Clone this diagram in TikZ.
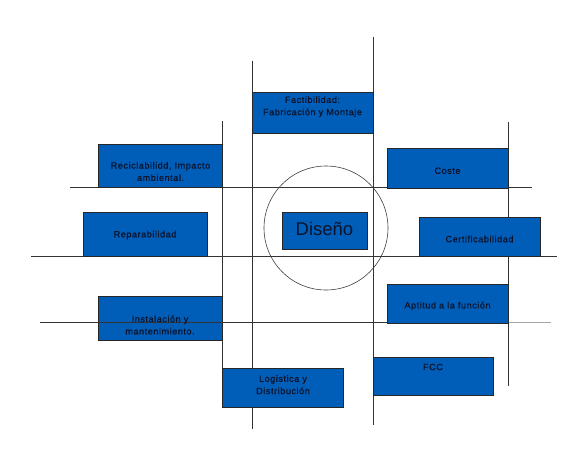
\documentclass[tikz,border=0pt]{standalone}
\usepackage{fontspec}
\newfontfamily\boxfont[LetterSpace=6,FakeBold=0.7]{Liberation Sans}
\newfontfamily\bigfont{Liberation Sans}
\definecolor{boxblue}{RGB}{0,94,184}
\definecolor{txtdark}{RGB}{12,20,45}
\begin{document}
\begin{tikzpicture}[x=1pt,y=-1pt,
  bluebox/.style={draw=black!85,line width=0.9pt,fill=boxblue,inner sep=0pt},
  boxtext/.style={inner sep=0pt,font=\boxfont\fontsize{9.1}{12.3}\selectfont,text=txtdark,align=center},
  gridline/.style={draw=black!80,line width=0.8pt},
  lightline/.style={draw=black!35,line width=0.8pt}]
\useasboundingbox (0,0) rectangle (575,452);
% grid lines
\coordinate (v1t) at (222,121); \coordinate (v1b) at (222,368);
\coordinate (v2t) at (252,61);  \coordinate (v2b) at (252,429);
\coordinate (v3t) at (373,37);  \coordinate (v3b) at (373,425);
\coordinate (v4t) at (508,122); \coordinate (v4b) at (508,386);
\coordinate (h1l) at (70,187);  \coordinate (h1r) at (532,187);
\coordinate (h2l) at (31,256);  \coordinate (h2r) at (557,256);
\coordinate (h3l) at (40,322);  \coordinate (h3m) at (262,322); \coordinate (h3r) at (551,322);
\coordinate (h3k) at (387,322);
\draw[gridline] (v1t) -- (v1b);
\draw[gridline] (v2t) -- (v2b);
\draw[gridline] (v3t) -- (v3b);
\draw[gridline] (v4t) -- (v4b);
\draw[gridline] (h1l) -- (h1r);
\draw[gridline] (h2l) -- (h2r);
\draw[lightline] (h3m) -- (h3r);
\draw[gridline] (h3m) -- (h3k);
% circle
\node[draw=black!75,line width=0.6pt,circle,minimum size=124pt,inner sep=0pt] (circ) at (326,228) {};
% boxes
\node[bluebox,minimum width=121pt,minimum height=41pt] (fact) at (312.5,112.5) {};
\node[bluebox,minimum width=124pt,minimum height=43pt] (recic) at (160,165.5) {};
\node[bluebox,minimum width=124pt,minimum height=44pt] (repar) at (145,234) {};
\node[bluebox,minimum width=85pt,minimum height=37pt] (dis) at (324.5,230.5) {};
\node[bluebox,minimum width=121pt,minimum height=40pt] (coste) at (447.5,168) {};
\node[bluebox,minimum width=121pt,minimum height=39pt] (cert) at (479.5,236.5) {};
\node[bluebox,minimum width=121pt,minimum height=39pt] (apt) at (447.5,303.5) {};
\node[bluebox,minimum width=120pt,minimum height=38pt] (fcc) at (433,376) {};
\node[bluebox,minimum width=124pt,minimum height=44pt] (inst) at (160,318) {};
\node[bluebox,minimum width=121pt,minimum height=39pt] (logi) at (282.5,387.5) {};
% line through Instalación box
\draw[gridline] (h3l) -- (h3m);
% texts
\node[boxtext] (factt) at (312.5,106.7) {Factibilidad:\\Fabricación y Montaje};
\node[boxtext] (recict) at (160.5,171.5) {Reciclabilidd, Impacto\\ambiental.};
\node[boxtext] (repart) at (145,235) {Reparabilidad};
\node[inner sep=0pt,font=\bigfont\fontsize{18.5}{20}\selectfont,text=txtdark] (dist) at (324.5,229) {Diseño};
\node[boxtext] (costet) at (447.5,170.7) {Coste};
\node[boxtext] (certt) at (479.5,239) {Certificabilidad};
\node[boxtext] (aptt) at (447.5,306) {Aptitud a la función};
\node[boxtext] (fcct) at (433,367) {FCC};
\node[boxtext] (instt) at (160,325) {Instalación y\\mantenimiento.};
\node[boxtext] (logit) at (283,384.7) {Logistica y\\Distribución};
\end{tikzpicture}
\end{document}
